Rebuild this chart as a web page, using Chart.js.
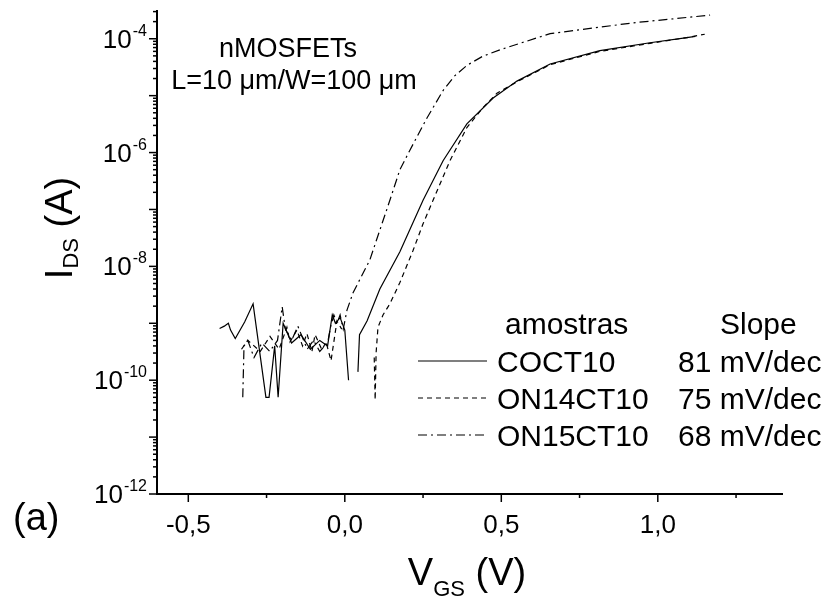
<!DOCTYPE html>
<html>
<head>
<meta charset="utf-8">
<script src="https://cdn.jsdelivr.net/npm/chart.js@4.4.1/dist/chart.umd.min.js"></script>
<style>
  html, body { margin: 0; background: #fff; }
  #wrap { width: 832px; height: 604px; }
</style>
</head>
<body>
<div id="wrap"><canvas id="chart" width="832" height="604"></canvas></div>
<script>
// ===== Data =====
// COCT10 (solid)
const cocVgs = [-0.400, -0.385, -0.372, -0.365, -0.350, -0.320, -0.293, -0.252, -0.242, -0.224, -0.213, -0.197,
                -0.170, -0.140, -0.110, -0.080, -0.055, -0.040, -0.030, -0.015, 0.000, 0.012, 0.027,
                0.042, 0.047, 0.071, 0.112, 0.176, 0.250, 0.314, 0.390, 0.474, 0.550, 0.656, 0.815, 0.975, 1.093, 1.120];
const cocIds = [8.1e-10, 8.9e-10, 1.0e-9, 7.6e-10, 5.4e-10, 1.05e-9, 2.2e-9, 5.0e-11, 5.0e-11, 4.0e-10, 5.0e-11, 1.0e-9,
                4.5e-10, 6.3e-10, 3.5e-10, 5.0e-10, 4.0e-10, 1.4e-9, 1.0e-9, 1.26e-9, 7.6e-10, 1.0e-10, null,
                1.4e-10, 6.3e-10, 1.1e-9, 4.0e-9, 1.8e-8, 1.45e-7, 7.2e-7, 3.2e-6, 9.1e-6, 1.8e-5, 3.6e-5, 6.2e-5, 8.5e-5, 1.05e-4, 1.1e-4];

// ON14CT10 (dashed)
const on14Vgs = [-0.330, -0.310, -0.296, -0.270, -0.239, -0.210, -0.185, -0.175, -0.153, -0.135, -0.121, -0.105,
                 -0.095, -0.073, -0.060, -0.044, -0.025, -0.010, 0.040,
                 0.094, 0.097, 0.100, 0.106, 0.122, 0.144, 0.176, 0.218, 0.250, 0.282, 0.336, 0.390, 0.442, 0.486,
                 0.550, 0.656, 0.815, 0.975, 1.093, 1.150];
const on14Ids = [3.5e-10, 5.0e-10, 4.3e-10, 3.2e-10, 5.9e-10, 3.5e-10, 8.5e-10, 4.7e-10, 7.6e-10, 4.0e-10, 6.6e-10, 3.2e-10,
                 6.3e-10, 3.4e-10, 4.7e-10, 2.2e-10, 1.1e-9, 7.9e-10, null,
                 2.5e-10, 4.5e-11, 3.0e-10, 8.5e-10, 1.4e-9, 2.2e-9, 5.2e-9, 1.9e-8, 5.6e-8, 1.45e-7, 7.2e-7, 2.75e-6, 6.2e-6, 1.1e-5,
                 1.75e-5, 3.5e-5, 6.0e-5, 8.3e-5, 1.05e-4, 1.2e-4];

// ON15CT10 (dash-dot)
const on15Vgs = [-0.326, -0.322, -0.310, -0.290, -0.265, -0.240, -0.215, -0.200, -0.190, -0.170, -0.150, -0.120,
                 -0.100, -0.080, -0.055, -0.045, -0.035, -0.025, -0.015, -0.005, 0.007, 0.026, 0.080, 0.144,
                 0.176, 0.208, 0.263, 0.314, 0.350, 0.390, 0.440, 0.496, 0.656, 0.920, 1.167];
const on15Ids = [5.0e-11, 4.0e-10, 5.0e-10, 2.5e-10, 4.5e-10, 3.2e-10, 5.0e-10, 1.95e-9, 7.9e-10, 5.0e-10, 8.9e-10, 3.5e-10,
                 5.0e-10, 3.2e-10, 4.5e-10, 8.9e-10, 1.4e-9, 1.0e-9, 1.4e-9, 7.9e-10, 1.7e-9, 3.4e-9, 1.3e-8, 1.45e-7,
                 5.0e-7, 1.1e-6, 4.1e-6, 1.23e-5, 2.2e-5, 3.4e-5, 4.9e-5, 6.4e-5, 1.23e-4, 1.9e-4, 2.6e-4];

const seriesNames = ["COCT10", "ON14CT10", "ON15CT10"];
const seriesSlopes = ["81 mV/dec", "75 mV/dec", "68 mV/dec"];

const xTickValues = [-0.5, -0.25, 0, 0.25, 0.5, 0.75, 1.0, 1.25];
const xMajorTicks = [-0.5, 0, 0.5, 1.0];
const yLabelExps = [-12, -10, -8, -6, -4];

const FONT = "'Liberation Sans', Arial, Helvetica, sans-serif";

function toPoints(xs, ys) {
    return xs.map((v, i) => ({ x: v, y: ys[i] }));
}

// ===== Axes, labels, legend drawn like the paper figure =====
const paperPlugin = {
    id: "paperPlugin",
    afterDraw(chart) {
        const ctx = chart.ctx;
        const a = chart.chartArea;
        const xs = chart.scales.x;
        const ys = chart.scales.y;

        ctx.save();
        ctx.strokeStyle = "#000";
        ctx.fillStyle = "#000";
        ctx.setLineDash([]);

        // axis lines
        ctx.lineWidth = 2;
        ctx.beginPath();
        ctx.moveTo(a.left, a.top);
        ctx.lineTo(a.left, a.bottom);
        ctx.lineTo(a.right, a.bottom);
        ctx.stroke();

        // x ticks
        ctx.lineWidth = 1.5;
        xTickValues.forEach(v => {
            const px = xs.getPixelForValue(v);
            const len = xMajorTicks.includes(v) ? 8 : 4;
            ctx.beginPath();
            ctx.moveTo(px, a.bottom);
            ctx.lineTo(px, a.bottom + len);
            ctx.stroke();
        });

        // y ticks (decades + minor)
        for (let e = -12; e <= -4; e++) {
            for (let m = 1; m <= 9; m++) {
                const v = m * Math.pow(10, e);
                if (v > ys.max) break;
                const py = ys.getPixelForValue(v);
                const len = m === 1 ? 8 : 4;
                ctx.beginPath();
                ctx.moveTo(a.left - len, py);
                ctx.lineTo(a.left, py);
                ctx.stroke();
            }
        }

        // y tick labels 10^n
        ctx.textBaseline = "alphabetic";
        yLabelExps.forEach(e => {
            const py = ys.getPixelForValue(Math.pow(10, e));
            const sup = String(e);
            ctx.font = "16px " + FONT;
            const supW = ctx.measureText(sup).width;
            ctx.font = "26px " + FONT;
            const baseW = ctx.measureText("10").width;
            const right = a.left - 10;
            ctx.textAlign = "left";
            ctx.fillText("10", right - supW - baseW - 1, py + 9);
            ctx.font = "16px " + FONT;
            ctx.fillText(sup, right - supW, py - 3);
        });

        // axis titles
        function drawSubText(parts, cx, baseline) {
            let total = 0;
            parts.forEach(p => { ctx.font = p.size + "px " + FONT; total += ctx.measureText(p.t).width; });
            let x = cx - total / 2;
            parts.forEach(p => {
                ctx.font = p.size + "px " + FONT;
                ctx.textAlign = "left";
                ctx.fillText(p.t, x, baseline + (p.dy || 0));
                x += ctx.measureText(p.t).width;
            });
        }
        drawSubText([{ t: "V", size: 38 }, { t: "GS", size: 22, dy: 11 }, { t: " (V)", size: 38 }], 467, 585);

        ctx.save();
        ctx.translate(72, 228);
        ctx.rotate(-Math.PI / 2);
        drawSubText([{ t: "I", size: 38 }, { t: "DS", size: 22, dy: 6 }, { t: " (A)", size: 38 }], 0, 0);
        ctx.restore();

        // panel letter
        ctx.font = "38px " + FONT;
        ctx.textAlign = "left";
        ctx.fillText("(a)", 13, 530);

        // annotation
        ctx.font = "27px " + FONT;
        ctx.textAlign = "center";
        ctx.fillText("nMOSFETs", 288, 57);
        ctx.fillText("L=10 \u03bcm/W=100 \u03bcm", 294, 89);

        // legend table
        ctx.font = "30px " + FONT;
        ctx.textAlign = "left";
        ctx.fillText("amostras", 505, 334);
        ctx.fillText("Slope", 720, 334);
        const rowY = [361, 398, 435];
        chart.data.datasets.forEach((ds, i) => {
            ctx.lineWidth = ds.borderWidth;
            ctx.setLineDash(ds.borderDash || []);
            ctx.beginPath();
            ctx.moveTo(418, rowY[i]);
            ctx.lineTo(487, rowY[i]);
            ctx.stroke();
            ctx.setLineDash([]);
            ctx.fillText(seriesNames[i], 497, rowY[i] + 11);
            ctx.fillText(seriesSlopes[i], 678, rowY[i] + 11);
        });

        ctx.restore();
    }
};

// ===== Chart =====
const ctx = document.getElementById("chart");

new Chart(ctx, {
    type: "line",
    data: {
        datasets: [
            {
                label: seriesNames[0],
                data: toPoints(cocVgs, cocIds),
                borderColor: "#000",
                borderWidth: 1.2,
                borderDash: []
            },
            {
                label: seriesNames[1],
                data: toPoints(on14Vgs, on14Ids),
                borderColor: "#000",
                borderWidth: 1.2,
                borderDash: [5, 4]
            },
            {
                label: seriesNames[2],
                data: toPoints(on15Vgs, on15Ids),
                borderColor: "#000",
                borderWidth: 1.2,
                borderDash: [9, 4, 2, 4]
            }
        ]
    },
    options: {
        responsive: false,
        animation: false,
        devicePixelRatio: 1,
        spanGaps: false,
        elements: {
            point: { radius: 0 },
            line: { tension: 0 }
        },
        layout: { padding: { left: 0, right: 49, top: 10, bottom: 0 } },
        plugins: {
            legend: { display: false },
            tooltip: { enabled: false }
        },
        scales: {
            x: {
                type: "linear",
                min: -0.6,
                max: 1.4,
                grid: { display: false },
                border: { display: false },
                afterBuildTicks: scale => {
                    scale.ticks = xTickValues.map(v => ({ value: v }));
                },
                afterFit: scale => { scale.height = 110; },
                ticks: {
                    autoSkip: false,
                    maxRotation: 0,
                    padding: 8,
                    color: "#000",
                    font: { family: FONT, size: 26 },
                    callback: v => xMajorTicks.includes(v) ? v.toFixed(1).replace(".", ",") : ""
                }
            },
            y: {
                type: "logarithmic",
                min: 1e-12,
                max: 3.2e-4,
                grid: { display: false },
                border: { display: false },
                ticks: { display: false },
                afterFit: scale => { scale.width = 157; }
            }
        }
    },
    plugins: [paperPlugin]
});
</script>
</body>
</html>
